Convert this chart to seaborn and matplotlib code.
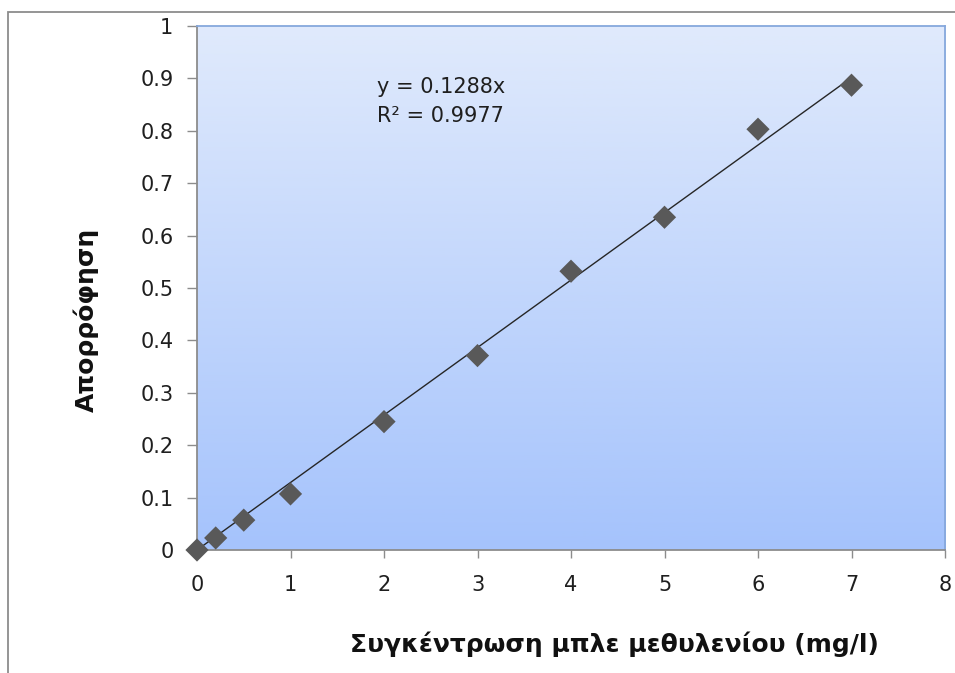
import numpy as np
import pandas as pd
import matplotlib
matplotlib.use("Agg")
import matplotlib.pyplot as plt
import seaborn as sns
from matplotlib.patches import Rectangle

# ---- data ----
concentration = [0, 0.2, 0.5, 1, 2, 3, 4, 5, 6, 7]
absorbance = [0.0, 0.023, 0.057, 0.107, 0.245, 0.371, 0.532, 0.635, 0.803, 0.887]
slope = 0.1288
r2 = 0.9977
trend_x = [0, 7]
x_ticks = [0, 1, 2, 3, 4, 5, 6, 7, 8]
y_ticks = [0, 0.1, 0.2, 0.3, 0.4, 0.5, 0.6, 0.7, 0.8, 0.9, 1]
y_tick_labels = ["0", "0.1", "0.2", "0.3", "0.4", "0.5", "0.6", "0.7", "0.8", "0.9", "1"]
x_label = "Συγκέντρωση μπλε μεθυλενίου (mg/l)"
y_label = "Απορρόφηση"

df = pd.DataFrame({"c": concentration, "a": absorbance})
trend = pd.DataFrame({"x": trend_x, "y": [slope * v for v in trend_x]})

sns.set_style("white")
plt.rcParams["font.family"] = ["DejaVu Sans"]

fig = plt.figure(figsize=(9.55, 6.73), dpi=100)
W, H = 955, 673
L, R, T, B = 197, 945, 26, 550
ax = fig.add_axes([L / W, 1 - B / H, (R - L) / W, (B - T) / H])

# outer chart frame
fig.patches.append(Rectangle((8 / W, -0.1), 1.2, 1 - 12 / H + 0.1, transform=fig.transFigure,
                             fill=False, edgecolor="#8c8c8c", linewidth=1.3, zorder=0))

# gradient background
grad = np.linspace(0, 1, 256).reshape(-1, 1)
top = np.array([0xe0, 0xea, 0xfc]) / 255
bot = np.array([0xa5, 0xc3, 0xfc]) / 255
img = top[None, None, :] * (1 - grad[:, :, None]) + bot[None, None, :] * grad[:, :, None]
ax.imshow(img, extent=[0, 1, 0, 1], transform=ax.transAxes, aspect="auto", zorder=0)

sns.lineplot(data=trend, x="x", y="y", ax=ax, color="#262626", linewidth=1.0, zorder=2)
sns.scatterplot(data=df, x="c", y="a", ax=ax, marker="D", s=140, color="#595959",
                edgecolor="none", zorder=3, clip_on=False)

ax.set_xlim(0, 8)
ax.set_ylim(0, 1)
ax.set_xticks(x_ticks)
ax.set_yticks(y_ticks)
ax.set_yticklabels(y_tick_labels)
ax.tick_params(axis="both", which="both", direction="out", width=1,
               color="#8c8c8c", labelsize=15, labelcolor="#1f1f1f", left=True, bottom=True)
ax.tick_params(axis="y", length=7, pad=10)
ax.tick_params(axis="x", length=6, pad=12)

for side in ["left", "bottom"]:
    ax.spines[side].set_color("#8c8c8c")
    ax.spines[side].set_linewidth(1.3)
for side in ["top", "right"]:
    ax.spines[side].set_color("#86a8dc")
    ax.spines[side].set_linewidth(1.3)

ax.set_xlabel(x_label, fontsize=18, fontweight="bold", color="#111111")
ax.set_ylabel(y_label, fontsize=18, fontweight="bold", color="#111111")
ax.xaxis.set_label_coords((614 - L) / (R - L), -(644 - B) / (B - T))
ax.xaxis.label.set_verticalalignment("center")
ax.yaxis.set_label_coords((86 - L) / (R - L), 1 - (320 - T) / (B - T))
ax.yaxis.label.set_verticalalignment("center")
ax.yaxis.label.set_horizontalalignment("center")

ax.text(1.928, 0.872, f"y = {slope}x", fontsize=15, color="#1f1f1f",
        va="baseline", ha="left", zorder=4)
ax.text(1.928, 0.8165, f"R² = {r2}", fontsize=15, color="#1f1f1f",
        va="baseline", ha="left", zorder=4)

fig.savefig("out.png", dpi=100)
